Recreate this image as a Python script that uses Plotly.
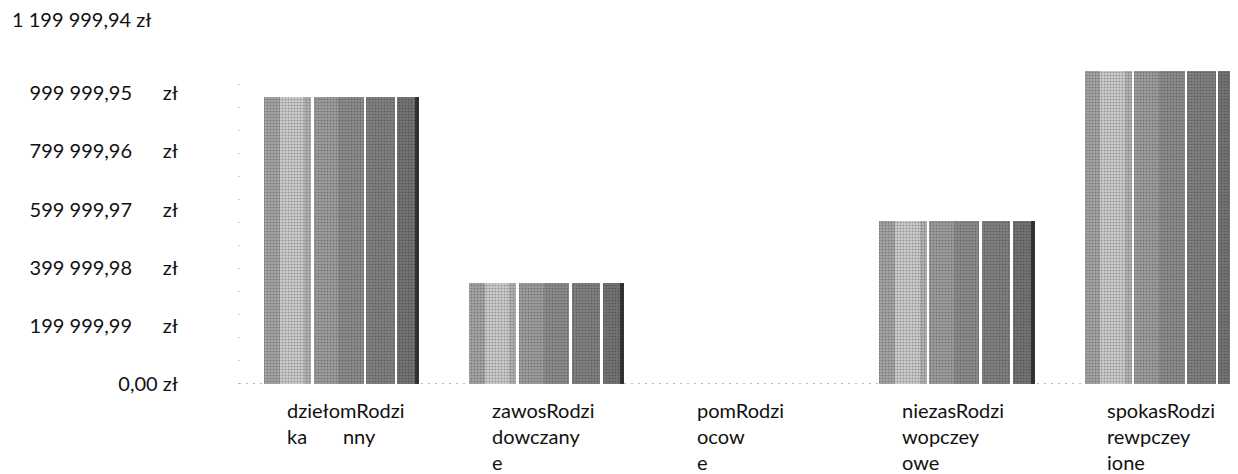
import plotly.graph_objects as go

# ---- data ----
categories = ["rodzinny dom dziecka", "zawodowe", "pomocowe", "niezawodowe", "spokrewnione"]
values = [986000.0, 347000.0, 0.0, 560000.0, 1075000.0]
cat_labels = [
    "dziełomRodzi<br>ka\u00a0\u00a0\u00a0\u00a0\u00a0\u00a0\u00a0nny",
    "zawosRodzi<br>dowczany<br>e",
    "pomRodzi<br>ocow<br>e",
    "niezasRodzi<br>wopczey<br>owe",
    "spokasRodzi<br>rewpczey<br>ione",
]
tick_vals = [0, 199999.99, 399999.98, 599999.97, 799999.96, 999999.95]
tick_text = ["0,00 zł"] + [
    s + "\u00a0\u00a0\u00a0\u00a0\u00a0\u00a0zł"
    for s in ["199 999,99", "399 999,98", "599 999,97", "799 999,96", "999 999,95"]
]
top_label = "1 199 999,94 zł"
y_max = 1199999.94

FONT = "Lato"
FS = 20

fig = go.Figure()

# bar drawn as vertical bands to imitate the shaded/striped column style
bar_w = 0.756
bands = [  # (start frac, end frac, color)
    (0.00, 0.10, "#a2a2a2"),
    (0.10, 0.26, "#c8c8c8"),
    (0.26, 0.305, "#b0b0b0"),
    (0.305, 0.32, "#ffffff"),
    (0.32, 0.48, "#9a9a9a"),
    (0.48, 0.645, "#8a8a8a"),
    (0.645, 0.66, "#ffffff"),
    (0.66, 0.845, "#7e7e7e"),
    (0.845, 0.86, "#ffffff"),
    (0.86, 0.975, "#727272"),
    (0.975, 1.00, "#333333"),
]
xs = list(range(len(categories)))
for a, b, col in bands:
    fig.add_trace(go.Bar(
        x=xs, y=values,
        width=(b - a) * bar_w,
        offset=-bar_w / 2 + a * bar_w,
        marker=dict(color=col, line=dict(width=0),
                    pattern=dict(shape=".", fgcolor="#1a1a1a", fgopacity=0.35,
                                 size=3, solidity=0.25) if col != "#ffffff" else None),
        showlegend=False, hoverinfo="skip",
    ))

# category labels (left-aligned, as in the original)
for i, t in enumerate(cat_labels):
    fig.add_annotation(x=xs[i], y=0, xref="x", yref="y", text=t, showarrow=False,
                       xanchor="left", yanchor="top", align="left",
                       xshift=-57, yshift=-12,
                       font=dict(family=FONT, size=FS, color="#111"))

# top value label
fig.add_annotation(x=0, y=y_max, xref="paper", yref="y", text=top_label, showarrow=False,
                   xanchor="left", yanchor="middle", xshift=-229, yshift=16,
                   font=dict(family=FONT, size=FS, color="#111"))

# dotted baseline and faint axis
fig.add_shape(type="line", xref="paper", yref="y", x0=0, x1=1, y0=0, y1=0,
              line=dict(color="#777", width=1, dash="2px,5px"), layer="below")
fig.add_shape(type="line", xref="paper", yref="y", x0=0, x1=0, y0=0, y1=y_max * 0.9,
              line=dict(color="#999", width=1, dash="1px,22px"), layer="below")

# page body has an 8px default margin, so margins are reduced by 8px
fig.update_layout(
    width=1238, height=474,
    margin=dict(l=231, r=8, t=27, b=98, autoexpand=False),
    plot_bgcolor="white", paper_bgcolor="white",
    barmode="overlay", bargap=0,
    font=dict(family=FONT, size=FS, color="#111"),
)
fig.update_xaxes(range=[-0.5, 4.37], showticklabels=False, showgrid=False,
                 zeroline=False, showline=False, ticks="", automargin=False)
fig.update_yaxes(range=[0, y_max], tickvals=tick_vals, ticktext=tick_text,
                 showgrid=False, zeroline=False, showline=False, ticks="",
                 ticklabelstandoff=60, automargin=False,
                 tickfont=dict(family=FONT, size=FS, color="#111"))

fig.write_html("out.html")
